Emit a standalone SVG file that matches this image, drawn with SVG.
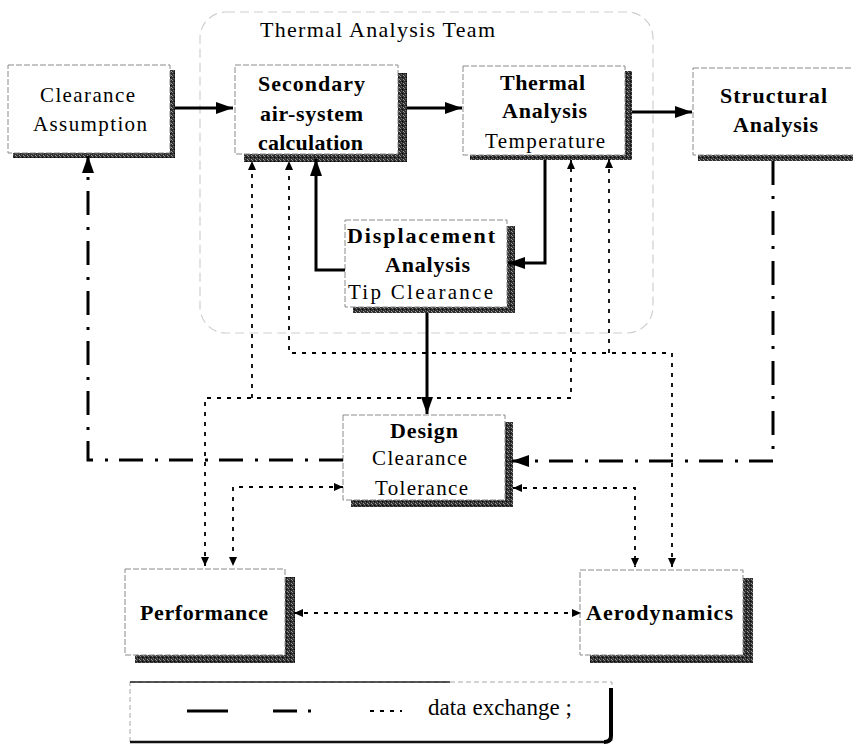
<svg xmlns="http://www.w3.org/2000/svg" width="853" height="749" viewBox="0 0 853 749">
  <style>
    .box { fill: #fff; stroke: #8a8a8a; stroke-width: 1; stroke-dasharray: 6 2; }
    .shadow { fill: url(#grain); }
    .b { font-family: "Liberation Serif", "Times New Roman", serif; font-weight: bold; font-size: 22px; fill: #000; }
    .r { font-family: "Liberation Serif", "Times New Roman", serif; font-size: 21px; fill: #000; }
    .solid { fill: none; stroke: #000; stroke-width: 3; }
    .dashdot { fill: none; stroke: #000; stroke-width: 3; stroke-dasharray: 24 11 3 12; }
    .dotted { fill: none; stroke: #000; stroke-width: 1.8; stroke-dasharray: 4 6; }
    .team { fill: none; stroke: #cfcfcf; stroke-width: 1.2; stroke-dasharray: 9 5; }
  </style>
  <defs>
    <!-- grainy dark texture for the drop shadows -->
    <pattern id="grain" width="4" height="4" patternUnits="userSpaceOnUse">
      <rect width="4" height="4" fill="#303030"/>
      <rect x="0" y="0" width="1" height="1" fill="#8c8c8c"/>
      <rect x="2" y="1" width="1" height="1" fill="#000"/>
      <rect x="1" y="2" width="1" height="1" fill="#6e6e6e"/>
      <rect x="3" y="3" width="1" height="1" fill="#a0a0a0"/>
    </pattern>
    <marker id="big" viewBox="0 0 17 12" refX="17" refY="6" markerWidth="17" markerHeight="12" markerUnits="userSpaceOnUse" orient="auto-start-reverse">
      <path d="M0,0 L17,6 L0,12 z" fill="#000"/>
    </marker>
    <marker id="small" viewBox="0 0 9 8" refX="9" refY="4" markerWidth="9" markerHeight="8" markerUnits="userSpaceOnUse" orient="auto-start-reverse">
      <path d="M0,0 L9,4 L0,8 z" fill="#000"/>
    </marker>
  </defs>

  <rect width="853" height="749" fill="#fff"/>

  <!-- team boundary -->
  <g id="thermal-team">
    <rect class="team" x="200" y="12" width="453" height="321" rx="26"/>
    <text class="r" x="260" y="37" style="font-size:22px" textLength="235" lengthAdjust="spacing">Thermal Analysis Team</text>
  </g>

  <g id="clearance-assumption">
    <rect class="shadow" x="13" y="70" width="162" height="88"/>
    <rect class="box" x="8" y="65" width="162" height="88"/>
    <text class="r" x="40" y="102" textLength="95" lengthAdjust="spacing">Clearance</text>
    <text class="r" x="33" y="131" textLength="114" lengthAdjust="spacing">Assumption</text>
  </g>

  <g id="secondary-air">
    <rect class="shadow" x="244" y="73" width="163" height="89"/>
    <rect class="box" x="235" y="65" width="163" height="89"/>
    <text class="b" x="258" y="91" textLength="107" lengthAdjust="spacing">Secondary</text>
    <text class="b" x="260" y="121" textLength="103" lengthAdjust="spacing">air-system</text>
    <text class="b" x="258" y="150" textLength="105" lengthAdjust="spacing">calculation</text>
  </g>

  <g id="thermal-analysis">
    <rect class="shadow" x="470" y="71" width="162" height="89"/>
    <rect class="box" x="463" y="66" width="162" height="89"/>
    <text class="b" x="500" y="90" textLength="85" lengthAdjust="spacing">Thermal</text>
    <text class="b" x="502" y="118" textLength="85" lengthAdjust="spacing">Analysis</text>
    <text class="r" x="485" y="148" textLength="120" lengthAdjust="spacing">Temperature</text>
  </g>

  <g id="structural-analysis">
    <rect class="shadow" x="698" y="74" width="170" height="87"/>
    <rect class="box" x="693" y="68" width="170" height="87"/>
    <text class="b" x="720" y="103" textLength="107" lengthAdjust="spacing">Structural</text>
    <text class="b" x="733" y="132" textLength="85" lengthAdjust="spacing">Analysis</text>
  </g>

  <g id="displacement-analysis">
    <rect class="shadow" x="353" y="226" width="162" height="87"/>
    <rect class="box" x="345" y="220" width="162" height="87"/>
    <text class="b" x="347" y="243" textLength="148" lengthAdjust="spacing">Displacement</text>
    <text class="b" x="385" y="272" textLength="85" lengthAdjust="spacing">Analysis</text>
    <text class="r" x="348" y="299" textLength="145" lengthAdjust="spacing">Tip Clearance</text>
  </g>

  <g id="design">
    <rect class="shadow" x="351" y="422" width="162" height="85"/>
    <rect class="box" x="343" y="415" width="162" height="85"/>
    <text class="b" x="390" y="438" textLength="68" lengthAdjust="spacing">Design</text>
    <text class="r" x="372" y="465" textLength="95" lengthAdjust="spacing">Clearance</text>
    <text class="r" x="375" y="495" textLength="93" lengthAdjust="spacing">Tolerance</text>
  </g>

  <g id="performance">
    <rect class="shadow" x="135" y="577" width="160" height="86"/>
    <rect class="box" x="125" y="569" width="160" height="86"/>
    <text class="b" x="140" y="620" textLength="128" lengthAdjust="spacing">Performance</text>
  </g>

  <g id="aerodynamics">
    <rect class="shadow" x="590" y="578" width="163" height="85"/>
    <rect class="box" x="580" y="570" width="163" height="85"/>
    <text class="b" x="586" y="620" textLength="147" lengthAdjust="spacing">Aerodynamics</text>
  </g>

  <g id="connectors">
    <!-- solid flow -->
    <path class="solid" d="M175,108 H233" marker-end="url(#big)"/>
    <path class="solid" d="M407,108 H462" marker-end="url(#big)"/>
    <path class="solid" d="M632,112 H692" marker-end="url(#big)"/>
    <path class="solid" d="M345,270 H316 V159" marker-end="url(#big)"/>
    <path class="solid" d="M545,160 V263 H508" marker-end="url(#big)"/>
    <path class="solid" d="M427,313 V414" marker-end="url(#big)"/>

    <!-- dash-dot feedback -->
    <path class="dashdot" d="M343,460 H88 V156" marker-end="url(#big)"/>
    <path class="dashdot" d="M773,161 V461 H512" marker-end="url(#big)"/>

    <!-- dotted data exchange -->
    <path class="dotted" d="M205,566 V398 H571 V160" marker-start="url(#small)" marker-end="url(#small)"/>
    <path class="dotted" d="M252,398 V161" marker-end="url(#small)"/>
    <path class="dotted" d="M672,567 V353 H289 V161" marker-start="url(#small)" marker-end="url(#small)"/>
    <path class="dotted" d="M609,353 V159" marker-end="url(#small)"/>
    <path class="dotted" d="M343,487 H233 V566" marker-start="url(#small)" marker-end="url(#small)"/>
    <path class="dotted" d="M513,488 H635 V567" marker-start="url(#small)" marker-end="url(#small)"/>
    <path class="dotted" d="M294,613 H581" marker-start="url(#small)" marker-end="url(#small)"/>
  </g>

  <g id="legend">
    <rect x="130" y="682" width="482" height="60" fill="#fff" stroke="#a8a8a8" stroke-width="1" stroke-dasharray="5 3"/>
    <path d="M130,682 H450" stroke="#222" stroke-width="1.5" fill="none"/>
    <path d="M130,742 H606" stroke="#111" stroke-width="2.5" fill="none"/>
    <path d="M611,688 V736 Q611,742 604,742" stroke="#000" stroke-width="4" fill="none"/>
    <path class="solid" d="M187,711 H228" stroke-width="2.5"/>
    <path class="dashdot" d="M273,711 H316" stroke-width="2.5" stroke-dasharray="22 9 3 6"/>
    <path class="dotted" d="M370,711 H402" stroke-dasharray="2 4"/>
    <text class="r" x="428" y="715" style="font-size:23px" textLength="144" lengthAdjust="spacing">data exchange ;</text>
  </g>
</svg>
